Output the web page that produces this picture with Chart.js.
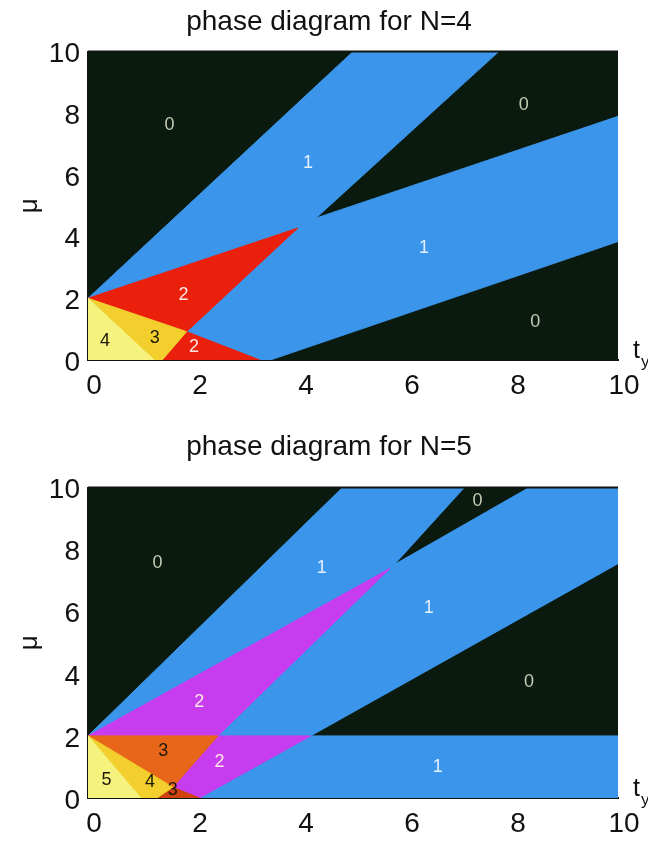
<!DOCTYPE html>
<html>
<head>
<meta charset="utf-8">
<title>phase diagrams</title>
<script src="https://cdn.jsdelivr.net/npm/chart.js@4.4.1/dist/chart.umd.min.js"></script>
<style>
body{margin:0;background:#fff;width:648px;height:846px;position:relative;overflow:hidden}
canvas{position:absolute;left:0}
#n4{top:0}
#n5{top:420px}
</style>
</head>
<body>
<canvas id="n4" width="648" height="420"></canvas>
<canvas id="n5" width="648" height="426"></canvas>
<script>
// tick values on both axes
var tTicks = [0, 2, 4, 6, 8, 10];
var muTicks = [0, 2, 4, 6, 8, 10];

// N=4 phase regions, corners as [t, mu]; later regions sit on top
var n4Zero = [[0,0],[10,0],[10,10],[0,10]];
var n4OneUpper = [[0,2],[5,10],[7.75,10],[4.3,4.6]];
var n4OneLower = [[4.3,4.6],[10,7.9],[10,3.84],[3.44,0],[1.4,0],[0,2]];
var n4TwoUpper = [[0,2],[3.96,4.28],[1.86,0.92]];
var n4TwoLower = [[1.86,0.92],[3.24,0],[1.4,0]];
var n4Three = [[0,2],[1.86,0.92],[1.4,0],[1.25,0]];
var n4Four = [[0,0],[0,2],[1.25,0]];

var n4LabelText = ['0','1','0','1','0','2','2','3','4'];
var n4LabelT = [1.54, 4.15, 8.22, 6.34, 8.44, 1.8, 2.0, 1.26, 0.32];
var n4LabelMu = [7.63, 6.39, 8.28, 3.63, 1.24, 2.1, 0.43, 0.71, 0.6];

// N=5 phase regions
var n5Zero = [[0,0],[10,0],[10,10],[0,10]];
var n5OneUpper = [[0,2],[4.8,10],[7.1,10],[5.78,7.52],[8.32,10],[10,10],[10,7.55],[4.2,2]];
var n5OneLower = [[2.1,0],[10,0],[10,2],[4.2,2]];
var n5TwoUpper = [[0,2],[5.7,7.4],[2.45,2]];
var n5TwoLower = [[2.45,2],[4.2,2],[2.1,0],[1.6,0.35]];
var n5Three = [[0,2],[2.45,2],[1.6,0.35]];
var n5ThreeLow = [[1.3,0],[1.6,0.35],[2.1,0]];
var n5Four = [[0,2],[1.6,0.35],[1.3,0],[1.0,0]];
var n5Five = [[0,0],[0,2],[1.0,0]];

var n5LabelText = ['0','1','0','1','0','2','1','2','3','5','4','3'];
var n5LabelT = [1.31, 4.41, 7.35, 6.43, 8.32, 2.1, 6.6, 2.48, 1.42, 0.35, 1.17, 1.6];
var n5LabelMu = [7.58, 7.42, 9.56, 6.12, 3.74, 3.1, 1.0, 1.17, 1.5, 0.58, 0.53, 0.25];

var FONT = '"Liberation Sans", Arial, Helvetica, sans-serif';
var colBlack = '#0a1a0e', colBlue = '#3b95ea', colRed = '#ea200c';
var colPale = '#f6f27e', colGold = '#f2cf2c', colMagenta = '#c83cf0';
var colOrange = '#e8661a', colRust = '#d0420e';

function region(pts, color) {
  var d = pts.map(function(p){ return {x: p[0], y: p[1]}; });
  d.push({x: pts[0][0], y: pts[0][1]});
  return {
    data: d, showLine: true, fill: 'shape', tension: 0,
    backgroundColor: color, borderColor: color, borderWidth: 1,
    pointRadius: 0, pointHoverRadius: 0
  };
}

function labelColor(s) {
  if (s === '0') return '#c4ccb4';
  if (s === '1') return '#e2f0ff';
  if (s === '2') return '#ffe6e6';
  return '#1c1a08';
}

var phasePlugin = {
  id: 'phaseLabels',
  afterDatasetsDraw: function(chart, args, opts) {
    var ctx = chart.ctx, sx = chart.scales.x, sy = chart.scales.y, a = chart.chartArea;
    ctx.save();
    ctx.font = '18px ' + FONT;
    ctx.textAlign = 'center';
    ctx.textBaseline = 'middle';
    for (var i = 0; i < opts.text.length; i++) {
      ctx.fillStyle = labelColor(opts.text[i]);
      ctx.fillText(opts.text[i], sx.getPixelForValue(opts.t[i]), sy.getPixelForValue(opts.mu[i]));
    }
    // frame on top edge
    ctx.strokeStyle = '#101410';
    ctx.lineWidth = 2;
    ctx.beginPath();
    ctx.moveTo(a.left, a.top);
    ctx.lineTo(a.right, a.top);
    ctx.stroke();
    // t_y axis name, right of the plot
    ctx.fillStyle = '#111';
    ctx.textAlign = 'left';
    ctx.textBaseline = 'alphabetic';
    ctx.font = '25px ' + FONT;
    ctx.fillText('t', a.right + 15, a.bottom - 2);
    ctx.font = '17px ' + FONT;
    ctx.fillText('y', a.right + 23, a.bottom + 7);
    ctx.restore();
  }
};

function makeChart(id, regions, titleText, titlePad, xHeight, labels) {
  // first region in the list is the bottom layer
  return new Chart(document.getElementById(id), {
    type: 'scatter',
    data: { datasets: regions.slice().reverse() },
    plugins: [phasePlugin],
    options: {
      responsive: false,
      animation: false,
      devicePixelRatio: 1,
      layout: { padding: { left: 40, right: 30, top: 0, bottom: 0 } },
      plugins: {
        legend: { display: false },
        tooltip: { enabled: false },
        title: {
          display: true, text: titleText, color: '#111',
          font: { family: FONT, size: 28, weight: 'normal' },
          padding: titlePad
        },
        phaseLabels: labels
      },
      scales: {
        x: {
          type: 'linear', min: 0, max: 10,
          afterBuildTicks: function(s){ s.ticks = tTicks.map(function(v){ return {value: v}; }); },
          afterFit: function(s){ s.height = xHeight; },
          grid: { display: false, drawTicks: false },
          border: { display: true, color: '#101410', width: 2 },
          ticks: { color: '#111', padding: 9, labelOffset: 6, maxRotation: 0,
                   font: { family: FONT, size: 28 } }
        },
        y: {
          type: 'linear', min: 0, max: 10,
          afterBuildTicks: function(s){ s.ticks = muTicks.map(function(v){ return {value: v}; }); },
          afterFit: function(s){ s.width = 48; },
          grid: { display: false, drawTicks: false },
          border: { display: true, color: '#101410', width: 2 },
          ticks: { color: '#111', padding: 8, labelOffset: 3, font: { family: FONT, size: 28 } },
          title: { display: true, text: 'μ', color: '#111', padding: { top: -26, bottom: 0 },
                   font: { family: FONT, size: 26 } }
        }
      }
    }
  });
}

makeChart('n4', [
  region(n4Zero, colBlack),
  region(n4OneUpper, colBlue),
  region(n4OneLower, colBlue),
  region(n4TwoUpper, colRed),
  region(n4TwoLower, colRed),
  region(n4Three, colGold),
  region(n4Four, colPale)
], 'phase diagram for N=4', { top: 5, bottom: 13 }, 60,
  { text: n4LabelText, t: n4LabelT, mu: n4LabelMu });

makeChart('n5', [
  region(n5Zero, colBlack),
  region(n5OneUpper, colBlue),
  region(n5OneLower, colBlue),
  region(n5TwoUpper, colMagenta),
  region(n5TwoLower, colMagenta),
  region(n5Three, colOrange),
  region(n5ThreeLow, colRust),
  region(n5Four, colGold),
  region(n5Five, colPale)
], 'phase diagram for N=5', { top: 10, bottom: 24 }, 48,
  { text: n5LabelText, t: n5LabelT, mu: n5LabelMu });
</script>
</body>
</html>
